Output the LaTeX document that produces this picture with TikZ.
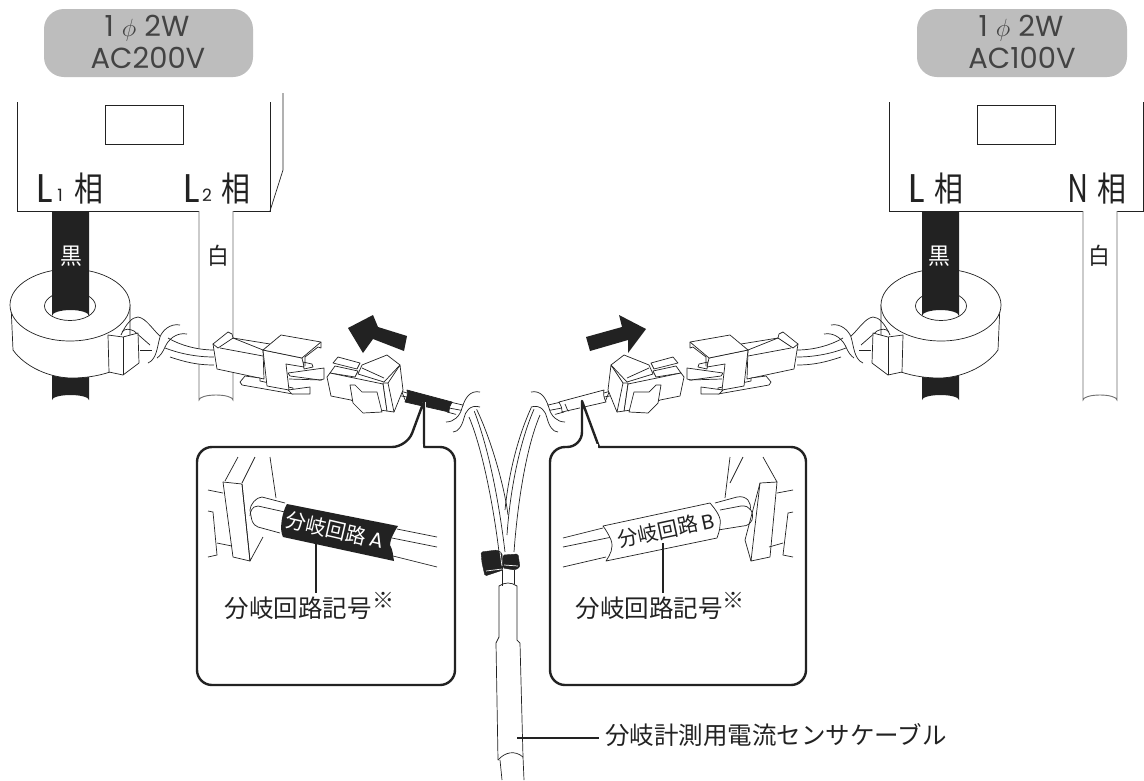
\documentclass[tikz,border=0pt]{standalone}
\usepackage{fontspec}
\setmainfont{Noto Sans CJK JP}
\newfontfamily\latf{Poppins}
\definecolor{blk}{HTML}{222222}
\definecolor{pill}{HTML}{BDBDBD}
\definecolor{wirec}{HTML}{6E6E6E}
\newcommand{\sensorhalf}[2]{%
  % lower wire
  \path[fill=blk] (52,360) -- (52,400) arc[start angle=180,end angle=360,x radius=18.5,y radius=5] -- (89,360) -- cycle;
  % ring
  \draw[thinl,fill=white] (11,305) -- (13,350) .. controls (25,367) and (50,378) .. (72,378) .. controls (85,378) and (98,376) .. (110,372) -- (130,340) -- (130,305) -- cycle;
  \draw[thinl,fill=white] (70,305) ellipse[x radius=60,y radius=36];
  \draw[thinl,fill=white] (70,306) ellipse[x radius=25.5,y radius=14.5];
  \path[fill=blk] (52,211) -- (52,316) arc[start angle=180,end angle=360,x radius=18.5,y radius=6] -- (89,211) -- cycle;
  % cable from ring to plug
  \draw[thinl] (121,335) .. controls (126,324) and (132,317) .. (138,317) .. controls (146,318) and (153,330) .. (160,336);
  \draw[thinl] (122,332) .. controls (125,328) and (130,329) .. (134,331) -- (150,345);
  \draw[thinl] (140,350) -- (152,350);
  \path[fill=white] (168,338) .. controls (178,344) and (195,350) .. (214,350) -- (214,365) .. controls (197,365) and (185,362) .. (170,357) -- cycle;
  \draw[thinl] (168,338) .. controls (178,344) and (195,350) .. (214,350);
  \draw[thinl] (165,348) .. controls (178,353) and (195,357) .. (214,357);
  \draw[thinl] (170,357) .. controls (185,362) and (197,365) .. (214,365);
  \draw[thinl] (180,325) .. controls (170,323) and (162,331) .. (160,337) .. controls (157,347) and (157,359) .. (148,363);
  \draw[thinl] (187,334) .. controls (176,332) and (168,340) .. (165,347) .. controls (163,352) and (160,356) .. (157,358);
  % clamp
  \draw[thinl,fill=white,line join=round] (108,335) -- (123,337) -- (138,333) -- (139,363) -- (123,375) -- (109,372) -- cycle;
  \draw[thinl] (123,337) -- (123,375);
  % plug
  \draw[thinl,fill=white,line join=round] (213,344) -- (217,369) -- (264,379) -- (263,350) -- (233,338) -- cycle;
  \draw[thinl,fill=white,line join=round] (213,344) -- (228,332) -- (232,334) -- (233,338) -- (218,348) -- cycle;
  \draw[thinl] (233,338) -- (270,344);
  \draw[thinl] (220,348) -- (263,356);
  \draw[thinl,fill=white,line join=round] (240,382) -- (245,376) -- (260,378) -- (260,381) -- (293,388) -- (293,394) -- (242,385) -- cycle;
  \draw[thinl,fill=white,line join=round] (292,394) -- (310,394) -- (310,387) -- (288,390) -- cycle;
  \draw[thinl,fill=white,line join=round] (288,373) -- (324,368) -- (324,379) -- (320,380) -- (290,376) -- cycle;
  \draw[thinl] (289,379) -- (322,380);
  \draw[thinl,fill=white,line join=round] (303,362) -- (312,364) -- (313,367) -- (304,369) -- cycle;
  \draw[thinl,fill=white,line join=round] (263,350) -- (302,358) -- (304,367) -- (286,364) -- (289,390) -- (267,386) -- cycle;
  \draw[thinl,fill=white,line join=round] (263,350) -- (281,335) -- (321,342) -- (302,358) -- cycle;
  \draw[thinl,line join=round] (321,342) -- (321,348) -- (318,347) -- (305,357) -- (305,366);
  % female connector
  \draw[thinl,fill=white,line join=round] (362,365) -- (387,355) -- (400,365) -- (384,382) -- (358,374) -- cycle;
  \draw[thinl,fill=white,line join=round] (333,363) -- (338,357) -- (360,363) -- (357,369) -- cycle;
  \draw[thinl,fill=white,line join=round] (330,373) -- (335,366) -- (358,371) -- (355,377) -- cycle;
  \draw[thinl,fill=white,line join=round] (327,377) -- (330,373) -- (383,384) -- (387,411) -- (365,408) -- (351,400) -- (331,396) -- cycle;
  \draw[thinl] (362,368) -- (384,378);
  \draw[thinl,fill=white,line join=round] (350,385) -- (353,403) -- (363,413) -- (382,412) -- (377,392) -- (362,392) -- (355,385) -- cycle;
  % wire stub and sleeve
  \draw[thinl,fill=white] (407,393) -- (397,390) arc[start angle=90,end angle=270,radius=5] -- (406,402);
  \draw[thinl] (396,395) -- (407,397);
  \draw[thinl,fill=white,line join=round] (383,383) -- (388,383) -- (400,365) -- (403,390) -- (394,412) -- (387,411) -- cycle;
  \draw[thinl] (388,383) -- (394,412);
  \draw[thinl] (450,402) -- (467,406);
  \draw[thinl] (449,408) -- (465,411);
  \draw[thinl] (447,412) -- (462,416);
  \draw[thinl,fill=#1,line join=round] (407,390) -- (452,402) .. controls (450,405) and (449,408) .. (449,412) -- (405,402) .. controls (407,398) and (408,394) .. (407,390) -- cycle;
  #2
  % break marks
  \path[fill=white] (480,392) .. controls (470,391) and (465,400) .. (462,410) -- (446,422) -- (453,432) .. controls (462,428) and (465,416) .. (480,407) -- cycle;
  \draw[thinl] (480,392) .. controls (470,390) and (465,398) .. (462,408) .. controls (460,416) and (454,422) .. (446,422);
  \draw[thinl] (480,407) .. controls (470,404) and (465,412) .. (464,418) .. controls (462,426) and (458,432) .. (453,432);
}
\begin{document}
\begin{tikzpicture}[x=1pt,y=-1pt,
  thinl/.style={line width=0.7pt,draw=blk},
  wirel/.style={line width=0.9pt,draw=wirec},
  callout/.style={line width=2.4pt,draw=blk,line join=round},
  lead/.style={line width=1.9pt,draw=blk},
  pilltxt/.style={font=\latf\fontsize{29}{29}\selectfont,text=blk!85,anchor=base,inner sep=0pt},
  phase/.style={font=\latf\fontsize{40}{40}\selectfont,text=blk,anchor=base,inner sep=0pt,xscale=.95,transform shape},
  phasen/.style={phase,xscale=.72},
  phsub/.style={font=\latf\fontsize{17}{17}\selectfont,text=blk,anchor=base,inner sep=0pt},
  kanji/.style={font=\fontsize{34}{34}\selectfont,text=blk,inner sep=0pt,xscale=.85,transform shape},
  wiret/.style={font=\fontsize{23}{23}\selectfont,inner sep=0pt,xscale=.95,transform shape},
  jp/.style={font=\fontsize{24.5}{25}\selectfont,text=blk,inner sep=0pt},
  tag/.style={font=\fontsize{20.5}{20}\selectfont,inner sep=0pt},
  refm/.style={font=\fontsize{22}{22}\selectfont,text=blk,inner sep=0pt},
  pillbox/.style={rounded corners=20pt,fill=pill,draw=none}
]
\useasboundingbox[fill=white] (0,0) rectangle (1144,780);

% voltage pills
\path[pillbox] (44,9) rectangle (253,77);
\path[pillbox] (917,9) rectangle (1127,77);
\node[pilltxt] (v1a) at (147,36) {1\;$\phi$\;2W};
\node[pilltxt] (v1b) at (148,68) {AC200V};
\node[pilltxt] (v2a) at (1021,36) {1\;$\phi$\;2W};
\node[pilltxt] (v2b) at (1022,68) {AC100V};

% breakers
\draw[thinl] (17,102) -- (17,211) -- (270,211) -- (270,102);
\draw[thinl] (270,211) -- (283,170) -- (283,93);
\draw[thinl] (105,105) rectangle (183,144);
\draw[thinl] (889,102) -- (889,211) -- (1143,211) -- (1143,102);
\draw[thinl] (977,105) rectangle (1055,144);
\node[phase] (l1) at (45,202) {L};
\node[phsub] (l1s) at (60,201) {1};
\node[kanji] (l1k) at (88.5,188.5) {相};
\node[phase] (l2) at (192,202) {L};
\node[phsub] (l2s) at (207,201) {2};
\node[kanji] (l2k) at (235.5,188.5) {相};
\node[phase] (l3) at (917,202) {L};
\node[kanji] (l3k) at (948.5,188.5) {相};
\node[phasen] (l4) at (1078,202) {N};
\node[kanji] (l4k) at (1111.5,188.5) {相};

% white wires
\draw[wirel,fill=white] (199,211) -- (199,400) arc[start angle=180,end angle=0,x radius=17,y radius=-5] -- (233,211);
\draw[wirel,fill=white] (1083,211) -- (1083,400) arc[start angle=180,end angle=0,x radius=17,y radius=-5] -- (1117,211);

% centre bundle
\draw[thinl] (469,417) .. controls (483,450) and (494,510) .. (499,552);
\draw[thinl] (473,408) .. controls (490,450) and (500,510) .. (505,552);
\draw[thinl] (475,406) .. controls (492,440) and (505,490) .. (508,515);
\draw[thinl] (540,415) .. controls (525,450) and (517,510) .. (514,552);
\draw[thinl] (535,407) .. controls (520,440) and (510,490) .. (507,535);
\draw[thinl] (532,406) .. controls (516,440) and (508,480) .. (505,510);
\draw[thinl] (502,570) -- (502,586);
\draw[thinl] (514,570) -- (514,584);

% sensors
\sensorhalf{blk}{}
\begin{scope}[xshift=1011pt,xscale=-1]
\sensorhalf{white}{\draw[thinl] (446,404) .. controls (444,408) and (444,411) .. (442,411);}
\end{scope}
\node[wiret,text=white] (k1) at (71,256) {黒};
\node[wiret,text=blk] (s1) at (218,256) {白};
\node[wiret,text=white] (k2) at (939,256) {黒};
\node[wiret,text=blk] (s2) at (1099,256) {白};

% arrows
\path[fill=blk] (348,328) -- (373,315) -- (378,327) -- (407,336) -- (404,351) -- (373,339) -- (363,353) -- cycle;
\path[fill=blk] (646,329) -- (619,315) -- (622,327) -- (586,337) -- (590,351) -- (628,340) -- (628,353) -- cycle;

% cable tie
\path[fill=blk,draw=blk,rounded corners=1.5pt] (481,552) -- (497,550) -- (502,553) -- (503,570) -- (485,576) -- (482,563) -- cycle;
\path[fill=blk,draw=blk,rounded corners=1.5pt] (503,555) -- (518,554) -- (520,567) -- (515,570) -- (503,568) -- cycle;
\draw[white,line width=.7pt] (486,571) -- (502,569);
\draw[white,line width=.7pt] (500,552) -- (502,566);
\draw[white,line width=.7pt] (504,565) -- (518,566);

% sheath
\draw[thinl] (499,637) -- (499,586) .. controls (505,582) and (511,582) .. (517,586) -- (517,640) -- (520,643) -- (523,757);
\draw[thinl] (499,637) -- (496,643) -- (498,760);
\draw[thinl] (498,760) .. controls (505,752) and (515,750) .. (523,757);
\draw[thinl] (500,760) -- (502,780);
\draw[thinl] (523,757) -- (524,780);

% callout frames
\draw[white,line width=4pt] (424,402) -- (424,442);
\draw[white,line width=4pt] (582,402) -- (582,442);
\draw[callout,rounded corners=15pt] (424,447) -- (455,447) -- (455,685) -- (197,685) -- (197,447) -- (407,447) [sharp corners] -- (424,401) -- cycle;
\draw[callout,rounded corners=15pt] (599,447) -- (806,447) -- (806,685) -- (550,685) -- (550,447) -- (582,447) [sharp corners] -- (582,401) -- cycle;
\path[fill=white] (408,449.2) rectangle (423,444);
\path[fill=white] (583,449.2) rectangle (598,444);

% callout A interior
\draw[thinl] (225,481) -- (238,457);
\draw[thinl] (242,483) -- (255,457);
\draw[thinl] (270,457) -- (276,498);
\draw[thinl,fill=white,line join=round] (223,482) -- (233,557) -- (250,561) -- (242,484) -- cycle;
\draw[thinl,line join=round] (242,484) -- (250,561) -- (263,537);
\draw[thinl] (208,490) -- (223,493);
\draw[thinl] (208,511) -- (213,512) -- (217,555) -- (208,557);
\draw[thinl] (217,543) -- (232,546);
\draw[thinl] (285,503) -- (262,497) .. controls (256,497) and (250,505) .. (250,510) .. controls (252,522) and (252,524) .. (258,527) -- (280,533);
\draw[thinl] (285,512) -- (258,506) .. controls (252,506) and (250,512) .. (250,516);
\draw[thinl] (397,529) -- (437,537);
\draw[thinl] (392,538) -- (437,547);
\draw[thinl] (393,556) -- (437,567);
\path[fill=blk] (287,504) -- (398,526) .. controls (394,532) and (390,540) .. (390,545) .. controls (393,550) and (393,556) .. (394,561) -- (283,537) .. controls (279,530) and (282,512) .. (287,504) -- cycle;
\node[tag,text=white,rotate=-13] (taga) at (335,530) {分岐回路\,\latf A};
\node[jp] (capa) at (298,608) {分岐回路記号};
\node[refm] (refa) at (383,600) {※};
\draw[lead] (316,543) -- (316,593);

% callout B interior
\draw[thinl] (730,483) -- (743,457);
\draw[thinl] (777,482) -- (763,457);
\draw[thinl] (730,457) -- (725,498);
\draw[thinl,fill=white,line join=round] (760,483) -- (751,561) -- (770,557) -- (777,482) -- cycle;
\draw[thinl,line join=round] (760,483) -- (745,540) -- (751,561);
\draw[thinl] (777,493) -- (793,490);
\draw[thinl] (793,512) -- (788,513) -- (783,555) -- (793,557);
\draw[thinl] (769,547) -- (783,543);
\draw[thinl] (715,503) -- (737,497) .. controls (747,495) and (752,503) .. (750,510);
\draw[thinl] (720,510) -- (741,506) .. controls (750,505) and (754,512) .. (752,520) .. controls (750,524) and (747,526) .. (743,526) -- (718,530);
\draw[thinl] (563,538) -- (603,528);
\draw[thinl] (563,547) -- (612,537);
\draw[thinl] (563,567) -- (606,557);
\draw[thinl,fill=white,line join=round] (603,526) -- (710,503) .. controls (716,510) and (722,518) .. (720,525) .. controls (720,530) and (718,535) .. (717,538) -- (606,561) .. controls (610,555) and (614,548) .. (611,540) .. controls (609,535) and (606,530) .. (603,526) -- cycle;
\node[tag,text=blk,rotate=12] (tagb) at (666,530) {分岐回路\,\latf B};
\node[jp] (capb) at (649,608) {分岐回路記号};
\node[refm] (refb) at (733,600) {※};
\draw[lead] (663,543) -- (663,593);

% bottom label
\node[jp,anchor=west] (sens) at (605,735) {分岐計測用電流センサケーブル};
\coordinate (sensend) at (517,738);
\draw[lead,shorten >=6pt] (sensend) -- (sensend -| sens.west);
\end{tikzpicture}
\end{document}
